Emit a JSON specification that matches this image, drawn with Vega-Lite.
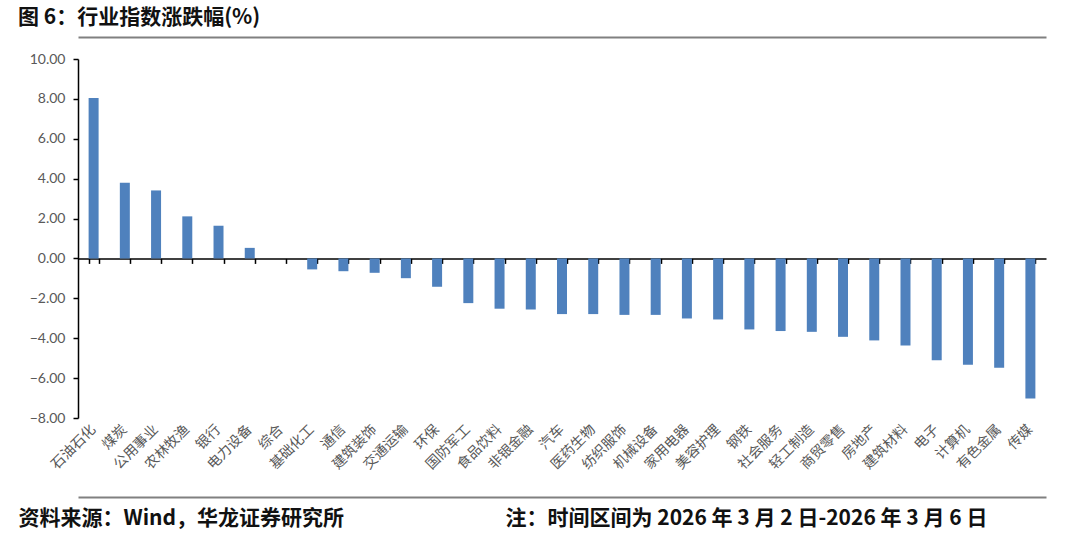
{
  "$schema": "https://vega.github.io/schema/vega-lite/v6.json",
  "width": 968,
  "height": 359,
  "autosize": "none",
  "padding": {"left": 78, "top": 59, "right": 34, "bottom": 118},
  "background": "white",
  "config": {"view": {"stroke": null}},
  "title": {
    "text": "图  6：行业指数涨跌幅(%)",
    "anchor": "start",
    "frame": "group",
    "dx": -60,
    "offset": 9,
    "font": "Noto Sans CJK SC",
    "fontSize": 21,
    "fontWeight": "bold",
    "color": "#111111"
  },
  "data": {
    "values": [
      {"industry": "石油石化", "change": 8.05},
      {"industry": "煤炭", "change": 3.79},
      {"industry": "公用事业", "change": 3.41},
      {"industry": "农林牧渔", "change": 2.11},
      {"industry": "银行", "change": 1.64},
      {"industry": "电力设备", "change": 0.53},
      {"industry": "综合", "change": 0.0},
      {"industry": "基础化工", "change": -0.55},
      {"industry": "通信", "change": -0.64},
      {"industry": "建筑装饰", "change": -0.72},
      {"industry": "交通运输", "change": -0.99},
      {"industry": "环保", "change": -1.42},
      {"industry": "国防军工", "change": -2.24},
      {"industry": "食品饮料", "change": -2.52},
      {"industry": "非银金融", "change": -2.56},
      {"industry": "汽车", "change": -2.79},
      {"industry": "医药生物", "change": -2.79},
      {"industry": "纺织服饰", "change": -2.83},
      {"industry": "机械设备", "change": -2.83},
      {"industry": "家用电器", "change": -3.01},
      {"industry": "美容护理", "change": -3.06},
      {"industry": "钢铁", "change": -3.56},
      {"industry": "社会服务", "change": -3.64},
      {"industry": "轻工制造", "change": -3.68},
      {"industry": "商贸零售", "change": -3.93},
      {"industry": "房地产", "change": -4.11},
      {"industry": "建筑材料", "change": -4.36},
      {"industry": "电子", "change": -5.10},
      {"industry": "计算机", "change": -5.33},
      {"industry": "有色金属", "change": -5.48},
      {"industry": "传媒", "change": -7.02}
    ]
  },
  "resolve": {"axis": {"x": "independent", "y": "independent"}},
  "layer": [
    {
      "mark": {"type": "bar", "color": "#4F81BD"},
      "encoding": {
        "x": {
          "field": "industry",
          "type": "nominal",
          "sort": null,
          "scale": {"paddingInner": 0.68, "paddingOuter": 0.34},
          "axis": {
            "orient": "bottom",
            "domain": false,
            "ticks": false,
            "labelAngle": -45,
            "labelAlign": "right",
            "labelBaseline": "middle",
            "labelPadding": 9,
            "labelFont": "Noto Sans CJK SC",
            "labelFontSize": 14,
            "labelColor": "#595959",
            "labelOverlap": false,
            "title": "资料来源：Wind，华龙证券研究所",
            "titleX": -60,
            "titleY": 100,
            "titleAlign": "left",
            "titleAnchor": null,
            "titleBaseline": "middle",
            "titleFont": "Noto Sans CJK SC",
            "titleFontSize": 21,
            "titleFontWeight": "bold",
            "titleColor": "#111111"
          }
        },
        "y": {
          "field": "change",
          "type": "quantitative",
          "scale": {"domain": [-8, 10], "nice": false},
          "axis": {
            "values": [-8, -6, -4, -2, 0, 2, 4, 6, 8, 10],
            "format": ".2f",
            "grid": false,
            "domainColor": "#000000",
            "domainWidth": 1.5,
            "tickColor": "#000000",
            "tickSize": 5,
            "tickWidth": 1.5,
            "labelPadding": 8,
            "labelFont": "Lato",
            "labelFontSize": 14,
            "labelColor": "#595959",
            "title": null
          }
        }
      }
    },
    {
      "mark": {"type": "bar", "opacity": 0},
      "encoding": {
        "x": {
          "field": "industry",
          "type": "nominal",
          "sort": null,
          "axis": {
            "orient": "bottom",
            "offset": -159.6,
            "labels": false,
            "domainColor": "#000000",
            "domainWidth": 1.5,
            "ticks": true,
            "tickBand": "extent",
            "tickColor": "#000000",
            "tickSize": 5,
            "tickWidth": 1.5,
            "title": null
          }
        },
        "y": {"field": "change", "type": "quantitative", "axis": null}
      }
    },
    {
      "mark": {"type": "bar", "opacity": 0},
      "encoding": {
        "x": {
          "field": "industry",
          "type": "nominal",
          "sort": null,
          "axis": {
            "orient": "top",
            "offset": 22,
            "labels": false,
            "ticks": false,
            "domainColor": "#808080",
            "domainWidth": 2,
            "title": null
          }
        },
        "y": {"field": "change", "type": "quantitative", "axis": null}
      }
    },
    {
      "mark": {"type": "bar", "opacity": 0},
      "encoding": {
        "x": {
          "field": "industry",
          "type": "nominal",
          "sort": null,
          "axis": {
            "orient": "bottom",
            "offset": 79,
            "labels": false,
            "ticks": false,
            "domainColor": "#808080",
            "domainWidth": 2,
            "title": "注：时间区间为 2026 年 3 月 2 日-2026 年 3 月 6 日",
            "titleX": 427,
            "titleY": 21,
            "titleAlign": "left",
            "titleAnchor": null,
            "titleBaseline": "middle",
            "titleFont": "Noto Sans CJK SC",
            "titleFontSize": 21,
            "titleFontWeight": "bold",
            "titleColor": "#111111"
          }
        },
        "y": {"field": "change", "type": "quantitative", "axis": null}
      }
    }
  ]
}
